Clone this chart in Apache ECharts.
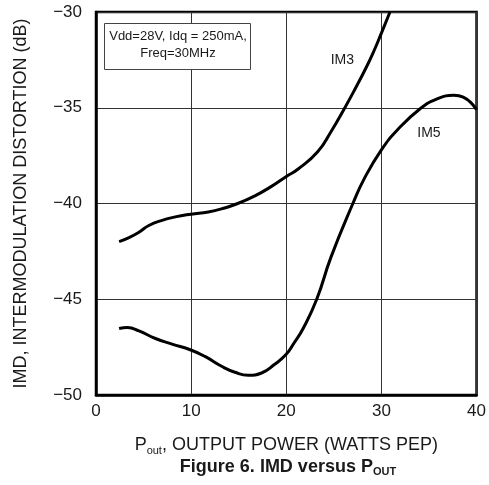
<!DOCTYPE html>
<html><head><meta charset="utf-8">
<script src="https://cdn.jsdelivr.net/npm/echarts@6/dist/echarts.min.js"></script>
<style>html,body{margin:0;padding:0;background:#fff}#c{width:489px;height:485px}</style>
</head><body><div id="c"></div>
<script>
const im3X = [2.43, 3.47, 4.51, 5.55, 6.94, 8.33, 9.97, 11.8, 13.2, 14.9, 16.7, 18.4, 19.97, 21.25, 23.3, 24.7, 26.1, 27.2, 28.4, 29.2, 30.0, 30.9];
const im3Y = [-41.99, -41.78, -41.5, -41.15, -40.88, -40.7, -40.56, -40.44, -40.28, -40.0, -39.6, -39.12, -38.6, -38.2, -37.3, -36.25, -35.05, -34.05, -32.9, -32.05, -31.1, -30.0];
const im5X = [2.43, 3.3, 4.51, 6.25, 7.99, 9.97, 11.5, 13.2, 14.6, 16.0, 17.4, 18.75, 19.97, 20.8, 21.8, 23.2, 24.7, 27.0, 28.2, 30.0, 31.7, 34.1, 35.8, 37.6, 38.6, 40.0];
const im5Y = [-46.53, -46.48, -46.65, -47.05, -47.34, -47.65, -48.0, -48.5, -48.81, -48.97, -48.85, -48.41, -47.89, -47.3, -46.5, -45.0, -42.8, -40.0, -38.7, -37.2, -36.15, -35.04, -34.55, -34.35, -34.45, -35.1];
const xTicks = [0, 10, 20, 30, 40];
const yTicks = [-50, -45, -40, -35, -30];
const seriesNames = ['IM3', 'IM5'];
const labelPos = [[25.9, -32.5], [35.0, -36.3]];
const noteLines = ['Vdd=28V, Idq = 250mA,', 'Freq=30MHz'];

const font = 'Liberation Sans, Arial, sans-serif';
const txt = '#1a1a1a';
const chart = echarts.init(document.getElementById('c'));
const toPairs = (xs, ys) => xs.map((x, i) => [x, ys[i]]);
const mk = (i) => ({
  symbol: 'rect', symbolSize: 1, itemStyle: {color: 'transparent'},
  label: {show: true, position: 'inside', formatter: seriesNames[i], color: txt, fontSize: 14, fontFamily: font},
  data: [{coord: labelPos[i]}]
});
chart.setOption({
  animation: false,
  grid: {left: 96, right: 9, top: 12, bottom: 90, show: true, borderColor: '#000', borderWidth: 2.5, backgroundColor: 'transparent'},
  xAxis: {
    type: 'value', min: xTicks[0], max: xTicks[xTicks.length - 1], interval: 10,
    axisLine: {show: true, lineStyle: {color: '#000', width: 2.5}},
    axisTick: {show: false},
    axisLabel: {color: txt, fontSize: 17, fontFamily: font, margin: 8},
    splitLine: {show: true, lineStyle: {color: '#333', width: 1}},
    name: '{n|P}{s|out}{n|, OUTPUT POWER (WATTS PEP)}',
    nameLocation: 'middle', nameGap: 40,
    nameTextStyle: {rich: {
      n: {fontSize: 18, fontFamily: font, color: txt},
      s: {fontSize: 11, fontFamily: font, color: txt, padding: [10, 0, 0, 0]}
    }}
  },
  yAxis: {
    type: 'value', min: yTicks[0], max: yTicks[yTicks.length - 1], interval: 5,
    axisLine: {show: true, lineStyle: {color: '#000', width: 2.5}},
    axisTick: {show: false},
    axisLabel: {color: txt, fontSize: 17, fontFamily: font, margin: 14, formatter: v => String(v).replace('-', '\u2212')},
    splitLine: {show: true, lineStyle: {color: '#333', width: 1}},
    name: 'IMD, INTERMODULATION DISTORTION (dB)',
    nameLocation: 'middle', nameGap: 66, nameRotate: 90,
    nameTextStyle: {fontSize: 18, fontFamily: font, color: txt}
  },
  series: [
    {name: seriesNames[0], type: 'line', smooth: 0.5, symbol: 'none', clip: true,
     lineStyle: {color: '#000', width: 3}, data: toPairs(im3X, im3Y), markPoint: mk(0)},
    {name: seriesNames[1], type: 'line', smooth: 0.5, symbol: 'none', clip: true,
     lineStyle: {color: '#000', width: 3}, data: toPairs(im5X, im5Y), markPoint: mk(1)}
  ],
  graphic: [
    {type: 'rect', left: 104, top: 23, shape: {width: 146, height: 46},
     style: {fill: '#fff', stroke: '#444', lineWidth: 1}, z: 10},
    {type: 'text', x: 178, y: 36, z: 11,
     style: {text: noteLines[0], fill: txt, font: '13px ' + font, align: 'center', verticalAlign: 'middle'}},
    {type: 'text', x: 178, y: 53, z: 11,
     style: {text: noteLines[1], fill: txt, font: '13px ' + font, align: 'center', verticalAlign: 'middle'}},
    {type: 'text', x: 288, y: 467, z: 11,
     style: {rich: {
       b: {fontSize: 18, fontWeight: 'bold', fontFamily: font, fill: txt},
       s: {fontSize: 11, fontWeight: 'bold', fontFamily: font, fill: txt, padding: [10, 0, 0, 0]}
     }, text: '{b|Figure 6. IMD versus P}{s|OUT}', align: 'center', verticalAlign: 'middle'}}
  ]
});
</script></body></html>
